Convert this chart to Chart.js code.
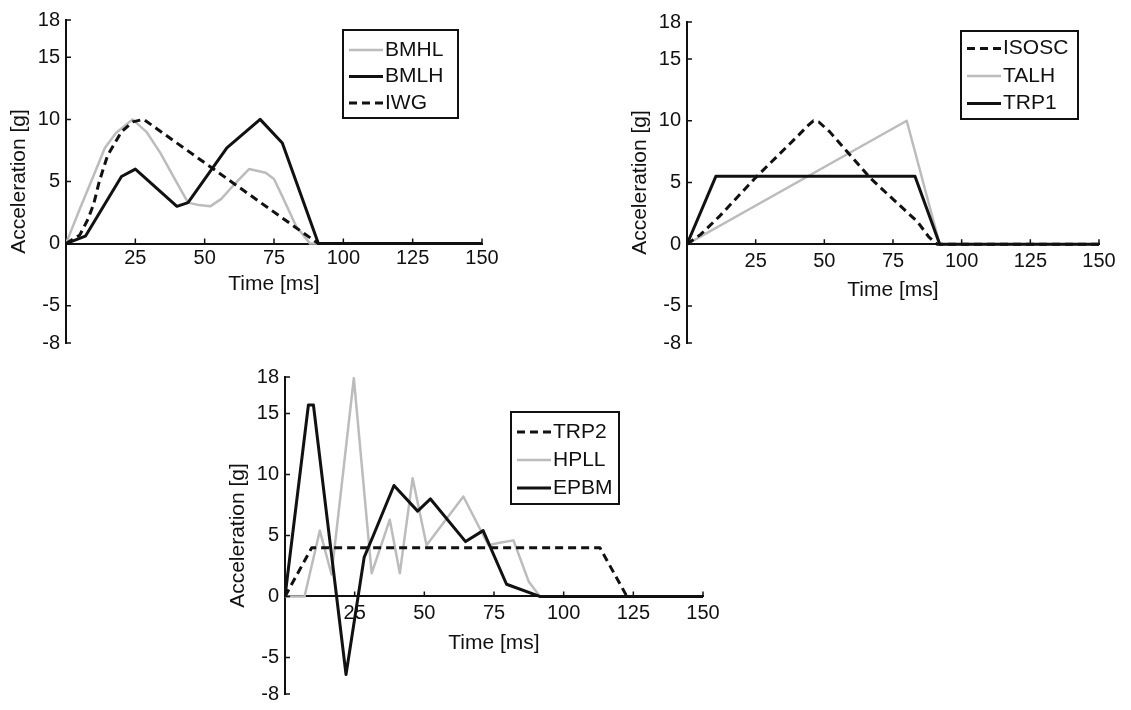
<!DOCTYPE html>
<html>
<head>
<meta charset="utf-8">
<script src="https://cdn.jsdelivr.net/npm/chart.js@4.4.1/dist/chart.umd.min.js"></script>
<style>
  html, body { margin: 0; padding: 0; background: #fff; }
  body { width: 1131px; height: 710px; position: relative; overflow: hidden; }
  canvas { position: absolute; }
</style>
</head>
<body>
<canvas id="c1" width="520" height="360" style="left:0;top:0"></canvas>
<canvas id="c2" width="531" height="360" style="left:600px;top:0"></canvas>
<canvas id="c3" width="540" height="350" style="left:200px;top:360px"></canvas>
<script>
// shared axis ticks
const xTicks = [25, 50, 75, 100, 125, 150];
const yTicks = [-8, -5, 0, 5, 10, 15, 18];

// top left
const bmhlTime = [0, 5, 10, 14, 18, 24, 29, 34, 39, 44, 48, 52, 56, 60, 66, 72, 75, 78, 83, 88, 150];
const bmhlAcc  = [0, 2.8, 5.5, 7.7, 8.9, 10, 9.0, 7.3, 5.3, 3.3, 3.1, 3.0, 3.6, 4.6, 6.0, 5.7, 5.2, 3.8, 1.4, 0, 0];
const bmlhTime = [0, 7, 20, 25, 40, 44, 58, 70, 78, 91, 150];
const bmlhAcc  = [0, 0.6, 5.4, 6.0, 3.0, 3.3, 7.7, 10, 8.1, 0, 0];
const iwgTime  = [0, 5, 8, 10, 12, 15, 20, 24, 28, 91, 150];
const iwgAcc   = [0, 0.7, 2.0, 3.2, 5.0, 7.1, 9.0, 9.8, 10, 0, 0];

// top right
const isoscTime = [0, 5, 12, 25, 40, 44, 46, 48, 52, 67, 84, 88, 91, 150];
const isoscAcc  = [0, 0.8, 2.3, 5.4, 8.7, 9.6, 10, 9.9, 9.1, 5.3, 1.8, 0.6, 0, 0];
const talhTime  = [0, 80, 92, 150];
const talhAcc   = [0, 10, 0, 0];
const trp1Time  = [0, 10.5, 83, 92, 150];
const trp1Acc   = [0, 5.5, 5.5, 0, 0];

// bottom
const trp2Time = [0, 9.6, 113, 122.7, 150];
const trp2Acc  = [0, 4, 4, 0, 0];
const hpllTime = [0, 7, 12.5, 16.7, 24.7, 31.1, 37.6, 41.2, 45.8, 50.8, 64, 73, 77, 82, 87.5, 91.5, 150];
const hpllAcc  = [0, 0, 5.4, 1.8, 17.9, 1.9, 6.3, 1.9, 9.7, 4.2, 8.2, 4.2, 4.4, 4.6, 1.2, 0, 0];
const epbmTime = [0, 8.4, 10.2, 21.9, 28.4, 31.7, 39.1, 47.6, 52.2, 64.8, 71.1, 79.5, 91.4, 150];
const epbmAcc  = [0, 15.7, 15.7, -6.4, 3.2, 5.0, 9.1, 7.0, 8.0, 4.5, 5.4, 1.0, 0, 0];

const BLACK = '#111';
const GRAY = '#bcbcbc';
const FONT = '"Liberation Sans", Arial, sans-serif';

function pts(t, v) {
    return t.map((x, i) => ({x: x, y: v[i]}));
}

function solid(label, t, v) {
    return {label, data: pts(t, v), borderColor: BLACK, borderWidth: 3, order: 1};
}
function dashed(label, t, v) {
    return {label, data: pts(t, v), borderColor: BLACK, borderWidth: 3, borderDash: [8, 5], order: 2};
}
function gray(label, t, v) {
    return {label, data: pts(t, v), borderColor: GRAY, borderWidth: 2.5, order: 3};
}

// inward tick marks + boxed legend, like the matlab figure
const matlabBits = {
    id: 'matlabBits',
    afterDatasetsDraw(chart, args, opts) {
        const {ctx} = chart;
        const x = chart.scales.x, y = chart.scales.y;
        const y0 = y.getPixelForValue(0);
        ctx.save();
        ctx.strokeStyle = BLACK;
        ctx.lineWidth = 1.5;
        ctx.beginPath();
        x.ticks.forEach(t => {
            const px = x.getPixelForValue(t.value);
            ctx.moveTo(px, y0);
            ctx.lineTo(px, y0 - 5);
        });
        y.ticks.forEach(t => {
            const py = y.getPixelForValue(t.value);
            ctx.moveTo(y.right, py);
            ctx.lineTo(y.right + 5, py);
        });
        ctx.stroke();

        ctx.fillStyle = '#fff';
        ctx.fillRect(opts.x, opts.y, opts.w, opts.h);
        ctx.lineWidth = 2;
        ctx.strokeRect(opts.x, opts.y, opts.w, opts.h);
        chart.data.datasets.forEach((ds, i) => {
            const ry = opts.y + opts.row0 + i * opts.gap;
            ctx.beginPath();
            ctx.setLineDash(ds.borderDash || []);
            ctx.strokeStyle = ds.borderColor;
            ctx.lineWidth = ds.borderWidth;
            ctx.moveTo(opts.x + 6, ry);
            ctx.lineTo(opts.x + 40, ry);
            ctx.stroke();
            ctx.setLineDash([]);
            ctx.fillStyle = BLACK;
            ctx.font = '21px ' + FONT;
            ctx.textBaseline = 'middle';
            ctx.textAlign = 'left';
            ctx.fillText(ds.label, opts.x + 42, ry);
        });
        ctx.restore();
    }
};

function makeChart(id, datasets, pad, tickPad, titlePad, legend) {
    return new Chart(document.getElementById(id), {
        type: 'line',
        data: {datasets},
        options: {
            responsive: false,
            animation: false,
            layout: {padding: pad},
            elements: {point: {radius: 0}, line: {tension: 0, borderJoinStyle: 'round'}},
            plugins: {legend: {display: false}, tooltip: {enabled: false}, matlabBits: legend},
            scales: {
                x: {
                    type: 'linear',
                    position: {y: 0},
                    min: 0, max: 150,
                    afterBuildTicks: s => { s.ticks = xTicks.map(v => ({value: v})); },
                    grid: {display: false, drawTicks: false},
                    border: {display: true, color: BLACK, width: 2},
                    ticks: {autoSkip: false, maxRotation: 0, padding: tickPad, color: BLACK,
                            font: {family: FONT, size: 20, lineHeight: 1}},
                    title: {display: true, text: 'Time [ms]', color: BLACK,
                            font: {family: FONT, size: 21, lineHeight: 1}, padding: {top: titlePad, bottom: 0}}
                },
                y: {
                    type: 'linear',
                    min: -8, max: 18,
                    afterBuildTicks: s => { s.ticks = yTicks.map(v => ({value: v})); },
                    afterFit: s => { s.width = 60; },
                    grid: {display: false, drawTicks: false},
                    border: {display: true, color: BLACK, width: 2},
                    ticks: {padding: 6, color: BLACK, font: {family: FONT, size: 20, lineHeight: 1}},
                    title: {display: true, text: 'Acceleration [g]', color: BLACK,
                            font: {family: FONT, size: 21, lineHeight: 1}, padding: {top: 3, bottom: 0}}
                }
            }
        },
        plugins: [matlabBits]
    });
}

makeChart('c1', [
    gray('BMHL', bmhlTime, bmhlAcc),
    solid('BMLH', bmlhTime, bmlhAcc),
    dashed('IWG', iwgTime, iwgAcc)
], {left: 6, right: 38, top: 20, bottom: 17}, 5, 0,
   {x: 343, y: 30, w: 115, h: 88, row0: 20, gap: 26.5});

makeChart('c2', [
    dashed('ISOSC', isoscTime, isoscAcc),
    gray('TALH', talhTime, talhAcc),
    solid('TRP1', trp1Time, trp1Acc)
], {left: 27, right: 32, top: 22, bottom: 17}, 7, 1,
   {x: 361, y: 31, w: 117, h: 88, row0: 17.5, gap: 27.5});

makeChart('c3', [
    dashed('TRP2', trp2Time, trp2Acc),
    gray('HPLL', hpllTime, hpllAcc),
    solid('EPBM', epbmTime, epbmAcc)
], {left: 25, right: 37, top: 17, bottom: 10}, 7, 2,
   {x: 311, y: 52, w: 108, h: 92, row0: 20, gap: 28});
</script>
</body>
</html>
